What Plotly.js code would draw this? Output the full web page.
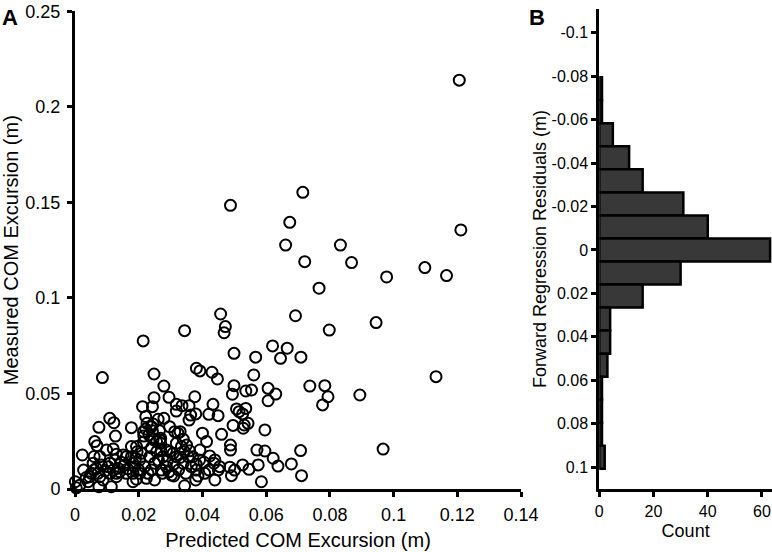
<!DOCTYPE html>
<html>
<head>
<meta charset="utf-8">
<script src="https://cdn.plot.ly/plotly-3.0.1.min.js"></script>
<style>
  html, body { margin: 0; padding: 0; background: #fff; }
  #chart { width: 772px; height: 552px; }
</style>
</head>
<body>
<div id="chart"></div>
<script>
// panel A: predicted vs measured COM excursion (m)
const predicted = [
  0.1206, 0.1211, 0.1098, 0.1166, 0.0978, 0.0488, 0.0715, 0.0674, 0.0661, 0.0833,
  0.0721, 0.0868, 0.0766, 0.0692, 0.0798, 0.0945, 0.0620, 0.0666, 0.0567, 0.0645,
  0.0709, 0.0561, 0.0554, 0.0606, 0.0630, 0.0606, 0.0737, 0.0784, 0.0794, 0.0777,
  0.0894, 0.1133, 0.0967, 0.0596, 0.0571, 0.0596, 0.0708, 0.0622, 0.0575, 0.0637,
  0.0679, 0.0711, 0.0585, 0.0543, 0.0536,
  0.0457, 0.0472, 0.0468, 0.0344, 0.0214, 0.0086, 0.0499, 0.0248, 0.0381, 0.0392,
  0.0430, 0.0447, 0.0279, 0.0248, 0.0295, 0.0376, 0.0212, 0.0243, 0.0318, 0.0336,
  0.0358, 0.0433, 0.0318, 0.0363, 0.0379, 0.0358, 0.0420, 0.0449, 0.0499, 0.0494,
  0.0536, 0.0496, 0.0507, 0.0515, 0.0526, 0.0531, 0.0528, 0.0400, 0.0413, 0.0460,
  0.0488, 0.0488, 0.0546, 0.0526, 0.0501, 0.0486, 0.0491, 0.0439, 0.0454, 0.0439,
  0.0423, 0.0391, 0.0421, 0.0386, 0.0348, 0.0344, 0.0310, 0.0274, 0.0250, 0.0229,
  0.0193, 0.0182, 0.0114, 0.0075,
  0.0023, 0.0027, 0.0001, 0.0004, 0.0057, 0.0051, 0.0041, 0.0078, 0.0083, 0.0072,
  0.0088, 0.0104, 0.0109, 0.0125, 0.0135, 0.0130, 0.0151, 0.0156, 0.0161, 0.0099,
  0.0062, 0.0069, 0.0075, 0.0109, 0.0122, 0.0127, 0.0046, 0.0067, 0.0130, 0.0161,
  0.0177, 0.0222, 0.0216, 0.0232, 0.0226, 0.0240, 0.0261, 0.0279, 0.0256, 0.0266,
  0.0177, 0.0193, 0.0177, 0.0208, 0.0187, 0.0203, 0.0182, 0.0219, 0.0235, 0.0250,
  0.0224, 0.0271, 0.0276, 0.0297, 0.0287, 0.0303, 0.0318, 0.0313, 0.0323, 0.0318,
  0.0334, 0.0344, 0.0339, 0.0355, 0.0370, 0.0365, 0.0381, 0.0379, 0.0392, 0.0407,
  0.0436, 0.0222, 0.0243, 0.0297, 0.0269, 0.0269, 0.0287, 0.0308, 0.0256, 0.0203,
  0.0182, 0.0109, 0.0078, 0.0130,
  0.0195, 0.0215, 0.0240, 0.0262, 0.0290, 0.0310, 0.0330, 0.0350, 0.0360, 0.0325,
  0.0295, 0.0240, 0.0200, 0.0165, 0.0140, 0.0120, 0.0095, 0.0060, 0.0035, 0.0015,
  0.0405, 0.0380, 0.0450, 0.0215, 0.0245, 0.0330, 0.0340, 0.0270, 0.0190, 0.0120,
  0.0145, 0.0060, 0.0265, 0.0245
];
const measured = [
  0.2140, 0.1356, 0.1159, 0.1117, 0.1110, 0.1485, 0.1553, 0.1396, 0.1277, 0.1277,
  0.1190, 0.1185, 0.1051, 0.0907, 0.0832, 0.0871, 0.0749, 0.0737, 0.0690, 0.0684,
  0.0690, 0.0597, 0.0518, 0.0527, 0.0497, 0.0462, 0.0539, 0.0541, 0.0483, 0.0440,
  0.0492, 0.0588, 0.0209, 0.0309, 0.0204, 0.0199, 0.0201, 0.0161, 0.0126, 0.0120,
  0.0131, 0.0070, 0.0038, 0.0344, 0.0422,
  0.0916, 0.0850, 0.0818, 0.0829, 0.0775, 0.0583, 0.0710, 0.0602, 0.0632, 0.0618,
  0.0611, 0.0576, 0.0539, 0.0478, 0.0480, 0.0483, 0.0431, 0.0431, 0.0443, 0.0436,
  0.0436, 0.0443, 0.0408, 0.0387, 0.0393, 0.0361, 0.0391, 0.0384, 0.0541, 0.0496,
  0.0513, 0.0333, 0.0419, 0.0405, 0.0393, 0.0335, 0.0318, 0.0292, 0.0248, 0.0286,
  0.0230, 0.0204, 0.0103, 0.0126, 0.0099, 0.0114, 0.0070, 0.0047, 0.0117, 0.0152,
  0.0173, 0.0152, 0.0099, 0.0068, 0.0082, 0.0017, 0.0068, 0.0082, 0.0047, 0.0082,
  0.0051, 0.0082, 0.0012, 0.0012,
  0.0178, 0.0099, 0.0038, 0.0006, 0.0135, 0.0082, 0.0038, 0.0169, 0.0126, 0.0082,
  0.0047, 0.0117, 0.0082, 0.0152, 0.0108, 0.0064, 0.0178, 0.0126, 0.0082, 0.0204,
  0.0248, 0.0227, 0.0323, 0.0370, 0.0347, 0.0277, 0.0064, 0.0108, 0.0182, 0.0169,
  0.0321, 0.0314, 0.0277, 0.0283, 0.0344, 0.0326, 0.0365, 0.0370, 0.0248, 0.0257,
  0.0222, 0.0222, 0.0169, 0.0187, 0.0117, 0.0082, 0.0038, 0.0117, 0.0169, 0.0135,
  0.0056, 0.0099, 0.0169, 0.0195, 0.0117, 0.0073, 0.0169, 0.0300, 0.0292, 0.0239,
  0.0222, 0.0195, 0.0135, 0.0169, 0.0169, 0.0117, 0.0099, 0.0047, 0.0204, 0.0082,
  0.0135, 0.0379, 0.0305, 0.0326, 0.0265, 0.0239, 0.0204, 0.0187, 0.0195, 0.0152,
  0.0135, 0.0135, 0.0064, 0.0082,
  0.0195, 0.0245, 0.0215, 0.0150, 0.0150, 0.0130, 0.0165, 0.0230, 0.0200, 0.0100,
  0.0090, 0.0100, 0.0100, 0.0105, 0.0090, 0.0100, 0.0095, 0.0100, 0.0060, 0.0020,
  0.0140, 0.0130, 0.0100, 0.0300, 0.0340, 0.0300, 0.0260, 0.0200, 0.0160, 0.0210,
  0.0140, 0.0170, 0.0305, 0.0260
];

// panel B: histogram of forward regression residuals
const binCenters = [-0.0742, -0.0636, -0.053, -0.0424, -0.0318, -0.0212, -0.0106, 0,
  0.0106, 0.0212, 0.0318, 0.0424, 0.053, 0.0636, 0.0742, 0.0848, 0.0954];
const counts = [1, 1, 5, 11, 16, 31, 40, 63, 30, 16, 4, 4, 3, 1, 1, 1, 2];
const binWidth = 0.0106;

const residTicks = [-0.1, -0.08, -0.06, -0.04, -0.02, 0, 0.02, 0.04, 0.06, 0.08, 0.1];
const residTickText = ['-0.1', '-0.08', '-0.06', '-0.04', '-0.02', '0', '0.02', '0.04', '0.06', '0.08', '0.1'];

const FONT = 'Liberation Sans, Arial, sans-serif';

const scatter = {
  x: predicted,
  y: measured,
  type: 'scatter',
  mode: 'markers',
  xaxis: 'x',
  yaxis: 'y',
  cliponaxis: false,
  marker: {
    symbol: 'circle',
    size: 11,
    color: 'rgba(0,0,0,0)',
    line: { color: '#000', width: 2 }
  },
  hoverinfo: 'x+y'
};

const hist = {
  x: counts,
  y: binCenters,
  type: 'bar',
  orientation: 'h',
  width: binWidth,
  xaxis: 'x2',
  yaxis: 'y2',
  marker: { color: '#383838', line: { color: '#000', width: 2.5 } }
};

const axisBase = {
  showgrid: false,
  zeroline: false,
  showline: true,
  linecolor: '#000',
  linewidth: 3,
  ticks: 'outside',
  ticklen: 5,
  tickwidth: 3,
  tickcolor: '#000'
};

const layout = {
  width: 772,
  height: 552,
  margin: { l: 75, r: 0, t: 9, b: 63 },
  paper_bgcolor: '#fff',
  plot_bgcolor: '#fff',
  showlegend: false,
  font: { family: FONT, color: '#000' },
  xaxis: Object.assign({}, axisBase, {
    domain: [0, 0.64],
    range: [0, 0.14],
    dtick: 0.02,
    tickfont: { size: 18 },
    ticklabelstandoff: 2,
    title: { text: 'Predicted COM Excursion (m)', font: { size: 20 }, standoff: 10 }
  }),
  yaxis: Object.assign({}, axisBase, {
    domain: [0, 0.995],
    range: [0, 0.25],
    dtick: 0.05,
    tickfont: { size: 18 },
    ticklabelstandoff: 3,
    title: { text: 'Measured COM Excursion (m)', font: { size: 20 }, standoff: 8 }
  }),
  xaxis2: Object.assign({}, axisBase, {
    domain: [0.7522, 1],
    range: [0, 63.7],
    tickvals: [0, 20, 40, 60],
    tickfont: { size: 16 },
    ticklabelstandoff: 1,
    anchor: 'y2',
    title: { text: 'Count', font: { size: 18 }, standoff: 6 }
  }),
  yaxis2: Object.assign({}, axisBase, {
    domain: [0, 1],
    range: [0.11, -0.1109],
    tickvals: residTicks,
    ticktext: residTickText,
    tickfont: { size: 16 },
    anchor: 'x2',
    title: { text: 'Forward Regression Residuals (m)', font: { size: 18 }, standoff: 1 }
  }),
  annotations: [
    { text: '<b>A</b>', xref: 'paper', yref: 'paper', x: -0.107, y: 1.012,
      xanchor: 'left', yanchor: 'top', showarrow: false, font: { size: 22 } },
    { text: '<b>B</b>', xref: 'paper', yref: 'paper', x: 0.648, y: 1.012,
      xanchor: 'left', yanchor: 'top', showarrow: false, font: { size: 22 } }
  ]
};

Plotly.newPlot('chart', [scatter, hist], layout, { staticPlot: true });
</script>
</body>
</html>
